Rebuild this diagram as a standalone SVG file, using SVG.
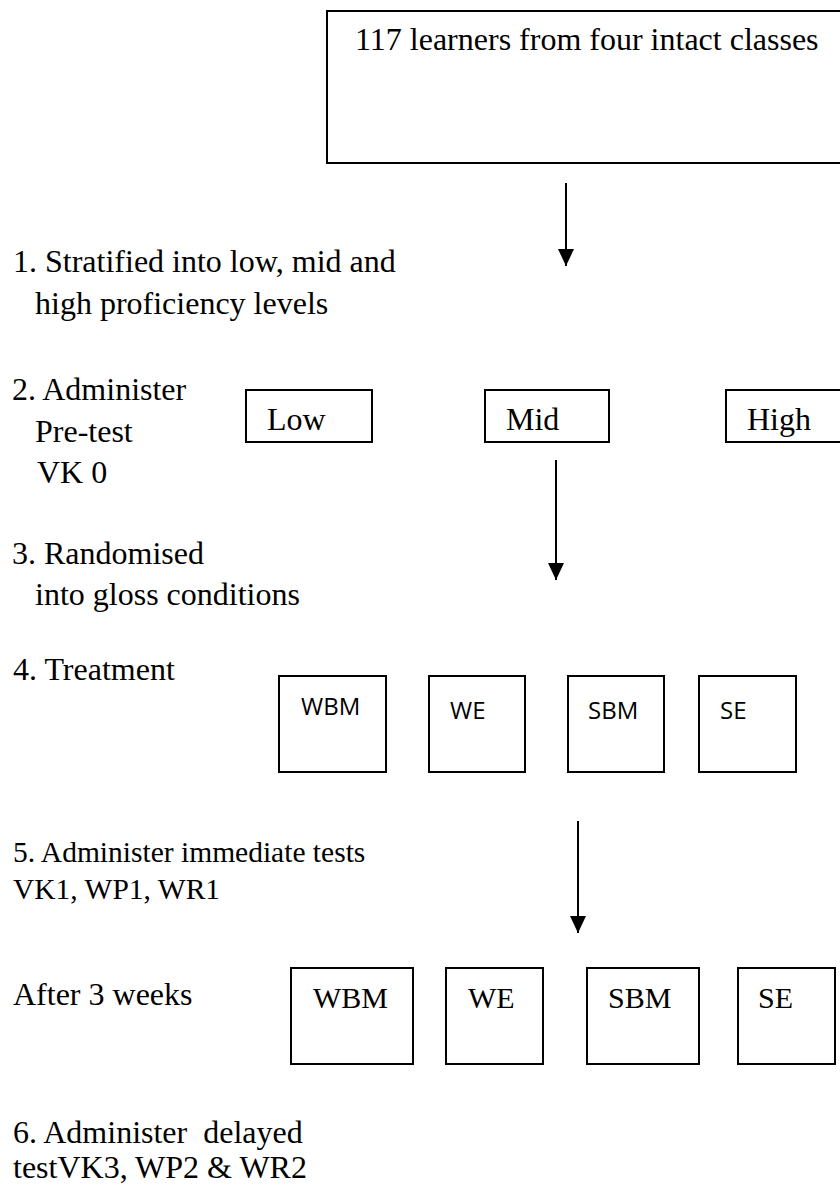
<svg xmlns="http://www.w3.org/2000/svg" width="840" height="1195" viewBox="0 0 840 1195">
  <style>
    .box { fill: #fff; stroke: #000; stroke-width: 2; }
    .serif { font-family: "Liberation Serif", "Times New Roman", serif; font-size: 32px; fill: #000; }
    .sans { font-family: "Open Sans", "Liberation Sans", sans-serif; font-size: 24px; fill: #000; }
    .step5 { font-size: 29.5px; }
    .lbl { font-size: 30px; }
    .conn { stroke: #000; stroke-width: 2; fill: none; }
  </style>
  <defs>
    <!-- solid triangular head, tip at the end of the line -->
    <marker id="arrowhead" markerUnits="userSpaceOnUse" markerWidth="17" markerHeight="16" viewBox="0 0 17 16" refX="17" refY="8" orient="auto">
      <path d="M0,0 L17,8 L0,16 Z" fill="#000"/>
    </marker>
  </defs>
  <rect width="840" height="1195" fill="#fff"/>

  <!-- step labels on the left -->
  <g id="step-labels">
    <text class="serif" x="13" y="272">1. Stratified into low, mid and</text>
    <text class="serif" x="35" y="314">high proficiency levels</text>
    <text class="serif" x="12" y="400">2. Administer</text>
    <text class="serif" x="35" y="442">Pre-test</text>
    <text class="serif" x="37" y="483">VK 0</text>
    <text class="serif" x="12" y="564">3. Randomised</text>
    <text class="serif" x="35" y="605">into gloss conditions</text>
    <text class="serif" x="13" y="680">4. Treatment</text>
    <text class="serif step5" x="13" y="862">5. Administer immediate tests</text>
    <text class="serif step5" x="13" y="899">VK1, WP1, WR1</text>
    <text class="serif" x="13" y="1005">After 3 weeks</text>
    <text class="serif" x="13" y="1143" xml:space="preserve">6. Administer  delayed</text>
    <text class="serif" x="13" y="1178">testVK3, WP2 &amp; WR2</text>
  </g>

  <!-- sample -->
  <g id="learners">
    <rect class="box" x="327" y="11" width="540" height="152"/>
    <text class="serif" x="355" y="50">117 learners from four intact classes</text>
  </g>

  <!-- proficiency levels -->
  <g id="level-low">
    <rect class="box" x="246" y="390" width="126" height="52"/>
    <text class="serif" x="267" y="430">Low</text>
  </g>
  <g id="level-mid">
    <rect class="box" x="485" y="390" width="124" height="52"/>
    <text class="serif" x="506" y="430">Mid</text>
  </g>
  <g id="level-high">
    <rect class="box" x="726" y="390" width="140" height="52"/>
    <text class="serif" x="747" y="430">High</text>
  </g>

  <!-- gloss conditions (treatment) -->
  <g id="treat-wbm">
    <rect class="box" x="279" y="676" width="107" height="96"/>
    <text class="sans" x="301" y="715">WBM</text>
  </g>
  <g id="treat-we">
    <rect class="box" x="429" y="676" width="96" height="96"/>
    <text class="sans" x="450" y="719">WE</text>
  </g>
  <g id="treat-sbm">
    <rect class="box" x="568" y="676" width="96" height="96"/>
    <text class="sans" x="588" y="719">SBM</text>
  </g>
  <g id="treat-se">
    <rect class="box" x="699" y="676" width="97" height="96"/>
    <text class="sans" x="720" y="719">SE</text>
  </g>

  <!-- gloss conditions (delayed) -->
  <g id="delay-wbm">
    <rect class="box" x="291" y="968" width="122" height="96"/>
    <text class="serif lbl" x="313" y="1008">WBM</text>
  </g>
  <g id="delay-we">
    <rect class="box" x="446" y="968" width="97" height="96"/>
    <text class="serif lbl" x="468" y="1008">WE</text>
  </g>
  <g id="delay-sbm">
    <rect class="box" x="587" y="968" width="112" height="96"/>
    <text class="serif lbl" x="608" y="1008">SBM</text>
  </g>
  <g id="delay-se">
    <rect class="box" x="738" y="968" width="97" height="96"/>
    <text class="serif lbl" x="758" y="1008">SE</text>
  </g>

  <!-- connectors -->
  <g id="connectors">
    <line class="conn" x1="566" y1="183" x2="566" y2="266" marker-end="url(#arrowhead)"/>
    <line class="conn" x1="556" y1="460" x2="556" y2="580" marker-end="url(#arrowhead)"/>
    <line class="conn" x1="578" y1="821" x2="578" y2="933" marker-end="url(#arrowhead)"/>
  </g>
</svg>
